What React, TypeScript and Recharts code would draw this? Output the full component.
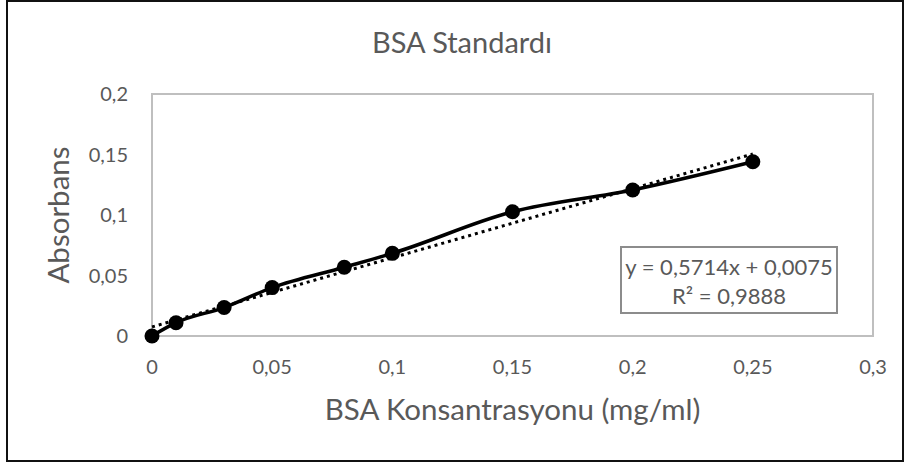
import React from 'react';
import { ComposedChart, Line, XAxis, YAxis, ReferenceArea, Label } from 'recharts';

// BSA standard curve readings
const concentrations = [0, 0.01, 0.03, 0.05, 0.08, 0.1, 0.15, 0.2, 0.25];
const absorbances = [0, 0.011, 0.0235, 0.04, 0.0568, 0.0683, 0.1027, 0.1207, 0.144];

// linear trendline end points (as drawn)
const trendX = [0, 0.25];
const trendY = [0.0075, 0.1504];

const xTicks = [0, 0.05, 0.1, 0.15, 0.2, 0.25, 0.3];
const yTicks = [0, 0.05, 0.1, 0.15, 0.2];

const chartTitle = 'BSA Standardı';
const xTitle = 'BSA Konsantrasyonu (mg/ml)';
const yTitle = 'Absorbans';
const equation = 'y = 0,5714x + 0,0075';
const rSquared = 'R² = 0,9888';

const TEXT = '#595959';
const FONT = 'Lato, "Open Sans", sans-serif';

const fmt = (v: number) => String(v).replace('.', ',');

const App: React.FC = () => {
  const points = concentrations.map((x, i) => ({ x, y: absorbances[i] }));
  const trend = trendX.map((x, i) => ({ x, y: trendY[i] }));

  return (
    <div style={{ position: 'absolute', left: 0, top: 0, width: 905, height: 463, background: '#fff', fontFamily: FONT }}>
      <ComposedChart
        width={905}
        height={463}
        margin={{ top: 94, right: 32, bottom: 0, left: 0 }}
        style={{ position: 'absolute', left: 0, top: 0 }}
      >
        <ReferenceArea x1={0} x2={0.3} y1={0} y2={0.2} fill="none" stroke="#bfbfbf" strokeWidth={2} />
        <XAxis
          type="number"
          dataKey="x"
          domain={[0, 0.3]}
          ticks={xTicks}
          tickFormatter={fmt}
          axisLine={false}
          tickLine={false}
          tickSize={0}
          tickMargin={24}
          height={127}
          tick={{ fill: TEXT, fontSize: 20, fontFamily: FONT }}
        >
          <Label value={xTitle} position="insideBottom" offset={43} fill={TEXT} fontSize={29.5} fontFamily={FONT} />
        </XAxis>
        <YAxis
          type="number"
          dataKey="y"
          domain={[0, 0.2]}
          ticks={yTicks}
          tickFormatter={fmt}
          axisLine={false}
          tickLine={false}
          tickSize={0}
          tickMargin={24}
          width={152}
          tick={{ fill: TEXT, fontSize: 20, fontFamily: FONT }}
        >
          <Label
            value={yTitle}
            content={(props: any) => {
              const vb = props.viewBox || {};
              const cx = 69;
              const cy = vb.y + vb.height / 2;
              return (
                <text
                  x={cx}
                  y={cy}
                  transform={`rotate(-90, ${cx}, ${cy})`}
                  textAnchor="middle"
                  fill={TEXT}
                  fontSize={29.5}
                  fontFamily={FONT}
                >
                  {props.value}
                </text>
              );
            }}
          />
        </YAxis>
        <Line
          data={points}
          dataKey="y"
          type="monotone"
          stroke="#000"
          strokeWidth={3.5}
          dot={{ r: 7.5, fill: '#000', stroke: 'none' }}
          activeDot={false}
          isAnimationActive={false}
        />
        <Line
          data={trend}
          dataKey="y"
          type="linear"
          stroke="#000"
          strokeWidth={3}
          strokeDasharray="3 4"
          dot={false}
          activeDot={false}
          isAnimationActive={false}
        />
      </ComposedChart>

      <svg width={905} height={463} style={{ position: 'absolute', left: 0, top: 0, pointerEvents: 'none' }}>
        <text x={462} y={53} textAnchor="middle" fill={TEXT} fontSize={29} fontFamily={FONT}>
          {chartTitle}
        </text>
      </svg>

      <div
        style={{
          position: 'absolute',
          left: 620,
          top: 246,
          width: 218,
          height: 68,
          boxSizing: 'border-box',
          border: '2px solid #8c8c8c',
          background: '#fff',
          color: TEXT,
          fontSize: 22,
          lineHeight: '29px',
          paddingTop: 4,
          textAlign: 'center',
        }}
      >
        <div>{equation}</div>
        <div>{rSquared}</div>
      </div>

      <div
        style={{
          position: 'absolute',
          left: 6,
          top: 0,
          width: 898,
          height: 462,
          boxSizing: 'border-box',
          border: '2px solid #111',
          pointerEvents: 'none',
        }}
      />
    </div>
  );
};

export default App;
